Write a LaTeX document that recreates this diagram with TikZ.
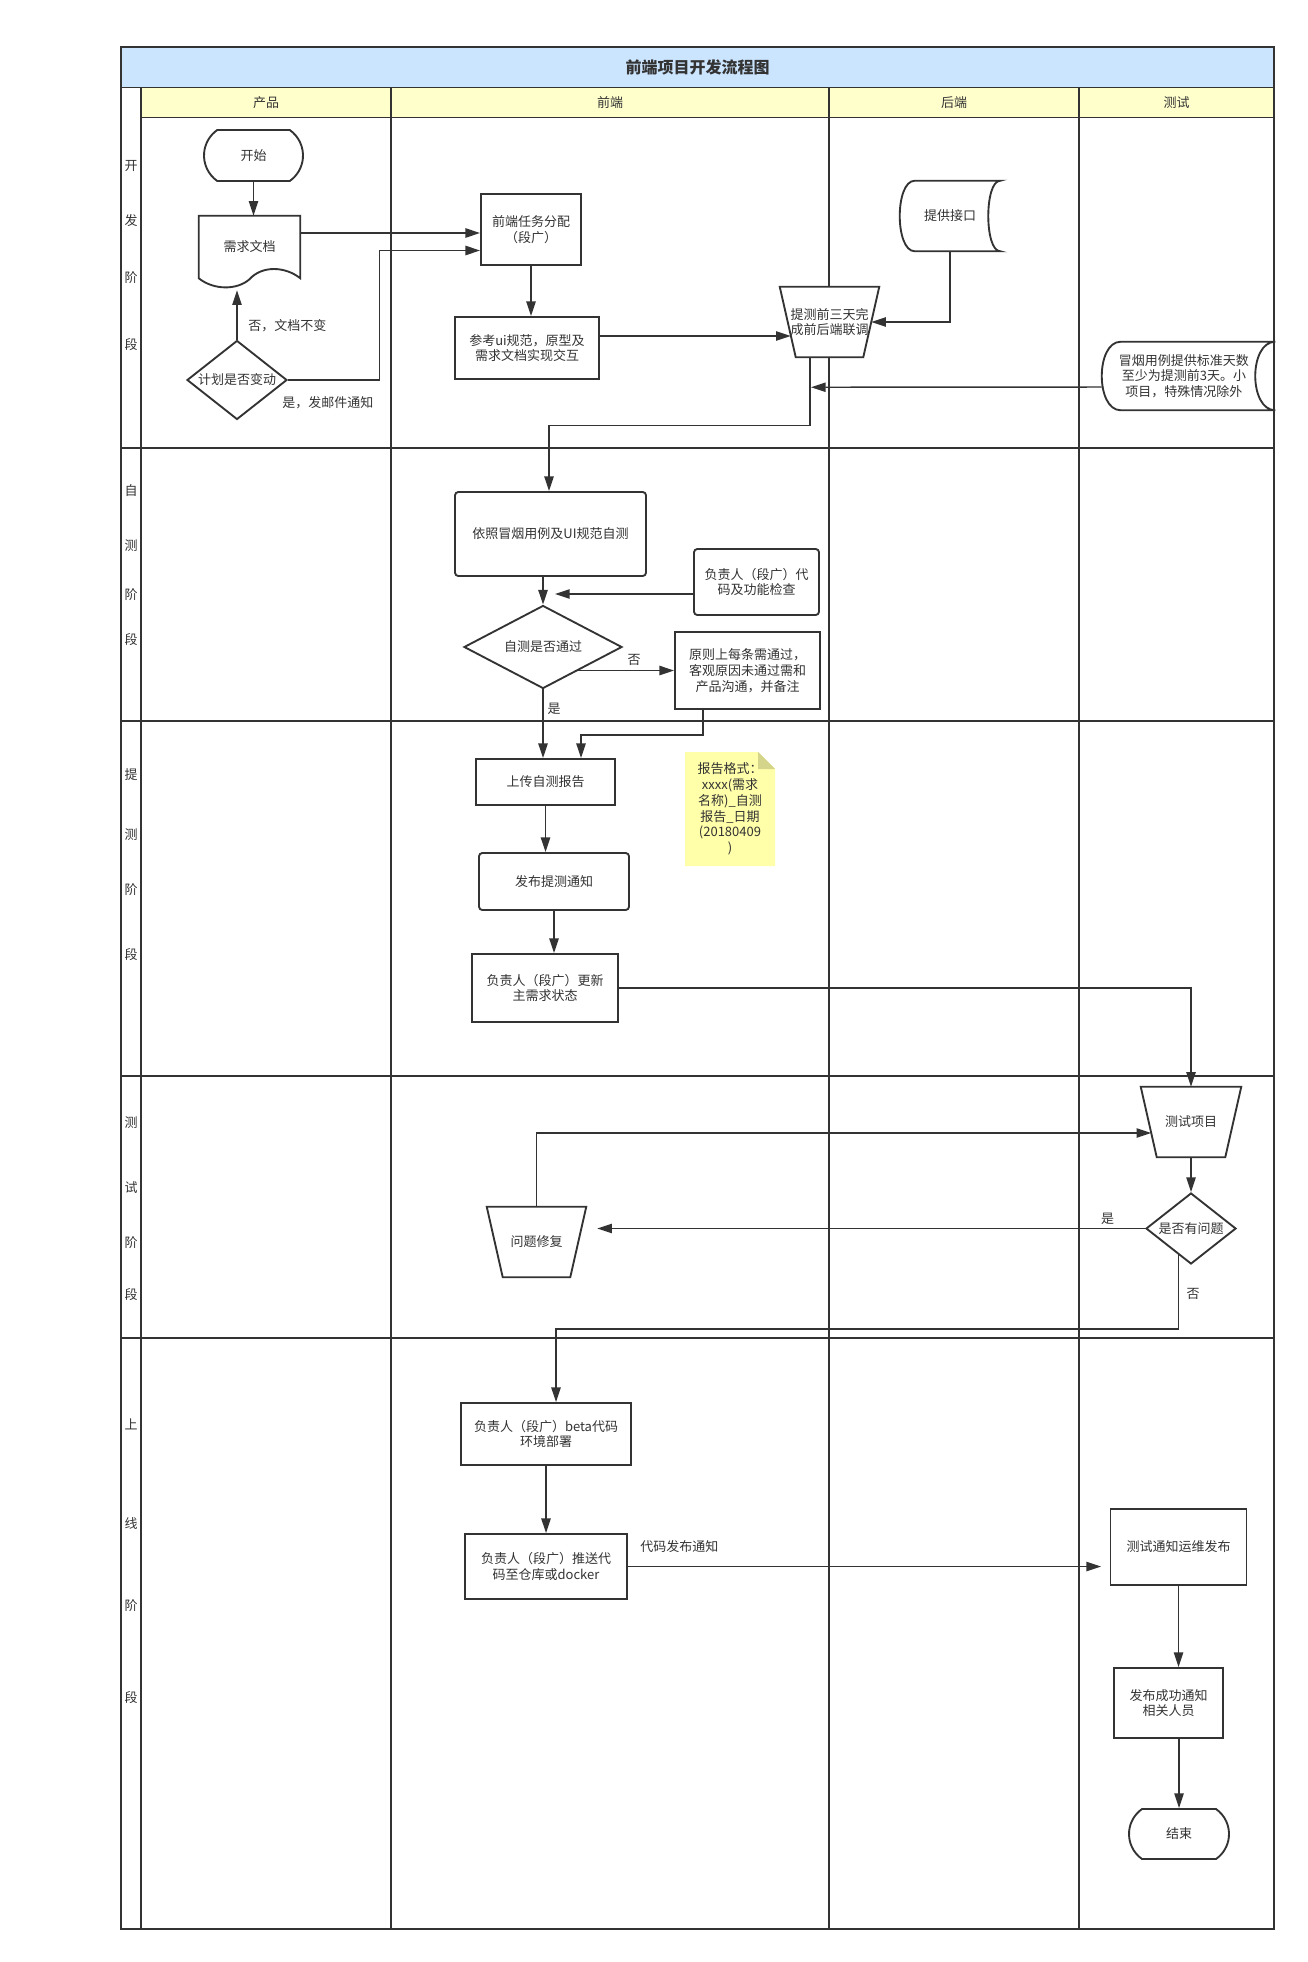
\documentclass[tikz,border=0pt]{standalone}
\usepackage{fontspec}
\setmainfont{Noto Sans CJK SC}
\usetikzlibrary{shapes.geometric,shapes.misc,arrows.meta,calc}
\definecolor{lc}{HTML}{333333}
\definecolor{tc}{HTML}{333333}
\definecolor{titlebg}{HTML}{CCE5FF}
\definecolor{headbg}{HTML}{FFFFCC}
\definecolor{notebg}{HTML}{FFFFAA}
\definecolor{notefold}{HTML}{D4D48A}
\pgfdeclarelayer{lanes}
\pgfdeclarelayer{shapes}
\pgfsetlayers{lanes,shapes,main}
\begin{document}
\begin{tikzpicture}[x=0.75pt,y=-0.75pt,
  every node/.style={text=tc, font=\fontsize{9.75}{11.8}\selectfont},
  lane/.style={draw=lc, line width=1.3pt},
  sz/.style 2 args={minimum width=#1*0.75pt, minimum height=#2*0.75pt},
  box/.style={draw=lc, line width=1.4pt, fill=white, align=center, inner sep=0pt},
  rbox/.style={box, rounded corners=2.5pt},
  ghost/.style={align=center, inner sep=0pt},
  shp/.style={draw=lc, line width=1.4pt, fill=white},
  dia/.style={draw=lc, line width=1.4pt, fill=white, diamond, inner sep=0pt},
  term/.style={draw=lc, line width=1.4pt, fill=white, rounded rectangle, rounded rectangle arc length=110, inner sep=0pt},
  arr/.style={draw=lc, line width=1.1pt, -{Triangle[length=11pt,width=7pt]}},
]
\useasboundingbox (0,0) rectangle (1308,1962);
\begin{pgfonlayer}{lanes}
  \fill[white] (0,0) rectangle (1308,1962);
  \fill[titlebg] (121,47.5) rectangle (1274,87.5);
  \fill[headbg] (141,87.5) rectangle (1274,117.5);
  \draw[lane] (141,87.5) -- (141,1929);
  \foreach \x in {391,829,1079} \draw[lane] (\x,87.5) -- (\x,1929);
  \draw[lane] (141,117.5) -- (1274,117.5);
  \foreach \y in {87.5,448,721,1076,1338} \draw[lane] (121,\y) -- (1274,\y);
  \draw[lane, line width=1.5pt] (121,47.5) rectangle (1274,1929);
\end{pgfonlayer}

% title and headers
\node[font=\bfseries\fontsize{12}{14}\selectfont] (title) at (697.5,67.5) {前端项目开发流程图};
\node (h1) at (266,102.5) {产品};
\node (h2) at (610,102.5) {前端};
\node (h3) at (954,102.5) {后端};
\node (h4) at (1176.5,102.5) {测试};

% stage labels
\foreach \t/\y [count=\i] in {开/166,发/221,阶/278,段/345,
  自/491,测/546,阶/595,段/640,
  提/775,测/835,阶/890,段/955,
  测/1123,试/1188,阶/1243,段/1295,
  上/1424,线/1524,阶/1606,段/1698}
  \node (s\i) at (131,\y) {\t};

% ---- row 1
\node[term, sz={99}{51}] (start) at (253.5,155.5) {开始};
\node[ghost, sz={101}{62}] (doc) at (249.5,247) {需求文档};
\node[box, sz={100}{71}] (fe) at (531,229.5) {前端任务分配\\（段广）};
\node[box, sz={144}{62}] (ref) at (527,348) {参考ui规范，原型及\\需求文档实现交互};
\node[ghost, sz={99}{70}] (lt) at (829.5,322) {提测前三天完\\成前后端联调};
\node[ghost, sz={100}{70}] (api) at (950,216) {提供接口};
\node[ghost, sz={173}{68}, label={[align=center, inner sep=0pt, xshift=-3.4pt]center:{冒烟用例提供标准天数\\至少为提测前3天。小\\项目，特殊情况除外}}] (smoke) at (1188.5,376) {};
\node[dia, sz={100}{79}, label={center:计划是否变动}] (chg) at (237,380) {};

% ---- row 2
\node[rbox, sz={191}{84}] (yz) at (550.5,534) {依照冒烟用例及UI规范自测};
\node[rbox, sz={125}{66}] (chk) at (756.5,582) {负责人（段广）代\\码及功能检查};
\node[dia, sz={158}{83}, label={center:自测是否通过}] (pass) at (543,647) {};
\node[box, sz={145}{77}] (yz2) at (747.5,670.5) {原则上每条需通过，\\客观原因未通过需和\\产品沟通，并备注};

% ---- row 3
\node[box, sz={139}{46}] (up) at (545.5,782) {上传自测报告};
\node[rbox, sz={150}{57}] (pub) at (554,881.5) {发布提测通知};
\node[box, sz={145.5}{68}] (upd) at (545,988) {负责人（段广）更新\\主需求状态};

% ---- row 4
\node[ghost, sz={100}{70}] (tp) at (1191,1122) {测试项目};
\node[dia, sz={90}{71}, label={center:是否有问题}] (issue) at (1191,1228.5) {};
\node[ghost, sz={99}{70}] (fix) at (536.5,1242) {问题修复};

% ---- row 5
\node[box, sz={170}{62}] (beta) at (546,1434) {负责人（段广）beta代码\\环境部署};
\node[box, sz={162}{65}] (push) at (546,1566.5) {负责人（段广）推送代\\码至仓库或docker};
\node[box, sz={136}{76}] (ops) at (1178.5,1547) {测试通知运维发布};
\node[box, sz={109}{70}] (succ) at (1168.5,1703) {发布成功通知\\相关人员};
\node[term, sz={100}{50}] (end) at (1179,1834) {结束};

% ---- shapes drawn from ghost nodes
\begin{pgfonlayer}{shapes}
  \path[shp] (doc.north west) -- (doc.north east) -- (doc.south east)
    .. controls ($(doc.south east)+(-15,-12)$) and ($(doc.south)+(12.5,-13)$) .. ($(doc.south)+(0,1)$)
    .. controls ($(doc.south)+(-12.5,12)$) and ($(doc.south west)+(15,12)$) .. (doc.south west) -- cycle;
  \foreach \t in {lt,tp,fix}
    \path[shp] (\t.north west) -- (\t.north east) -- ($(\t.south east)+(-16,0)$) -- ($(\t.south west)+(16,0)$) -- cycle;
  \path[shp] ($(api.north west)+(15,0)$) -- (api.north east)
    .. controls ($(api.north east)+(-16,0)$) and ($(api.south east)+(-16,0)$) .. (api.south east)
    -- ($(api.south west)+(15,0)$)
    .. controls ($(api.south west)+(-5,0)$) and ($(api.north west)+(-5,0)$) .. cycle;
  \path[shp] ($(smoke.north west)+(19,0)$) -- (smoke.north east)
    .. controls ($(smoke.north east)+(-26.7,0)$) and ($(smoke.south east)+(-26.7,0)$) .. (smoke.south east)
    -- ($(smoke.south west)+(19,0)$)
    .. controls ($(smoke.south west)+(-6.3,0)$) and ($(smoke.north west)+(-6.3,0)$) .. cycle;
  \fill[notebg] (685,752) -- (758,752) -- (775,769) -- (775,866) -- (685,866) -- cycle;
  \fill[notefold] (758,752) -- (775,769) -- (758,769) -- cycle;
\end{pgfonlayer}
\node[align=center, inner sep=0pt, font=\fontsize{9.75}{11.85}\selectfont] (note) at (730,809)
  {报告格式：\\xxxx(需求\\名称)\_自测\\报告\_日期\\(20180409\\)};

% ---- connectors
\draw[arr] (start.south) -- (start.south |- doc.north);
\draw[arr] ($(doc.east)+(0,-14)$) -- ($(fe.west)+(0,3.5)$);
\draw[arr] (chg.east) -- ($(chg.east)+(91.5,0)$) |- ($(fe.west)+(0,21)$);
\draw[arr] (chg.north) -- ($(doc.south)+(-12.5,12)$);
\node[anchor=west, inner sep=0pt] (lno) at (248,326) {否，文档不变};
\node[anchor=west, inner sep=0pt] (lyes) at (282,403) {是，发邮件通知};
\draw[arr] (fe.south) -- (fe.south |- ref.north);
\draw[arr] ($(ref.east)+(0,-12)$) -- ($(lt.west)+(11,14)$);
\draw[arr] (api.south) |- ($(lt.east)+(-8,0)$);
\draw[arr] ($(smoke.west)+(0,11)$) -- ($(lt.south)+(-18.5,30)$);
\draw[arr] ($(lt.south)+(-19.5,0)$) -- ($(lt.south)+(-19.5,68)$) -| ($(yz.north)+(-1.5,0)$);
\draw[arr] (pass.north |- yz.south) -- (pass.north);
\draw[arr] ($(chk.west)+(0,12)$) -- ($(pass.north |- chk.west)+(12,12)$);
\draw[arr] ($(yz2.west)+(-97,0)$) -- (yz2.west);
\node (no1) at (634,660) {否};
\draw[arr] (pass.south) -- (pass.south |- up.north);
\node (yes1) at (554,709) {是};
\draw[arr] ($(yz2.south)+(-44.5,0)$) -- ++(0,25) -| ($(up.north)+(35.5,0)$);
\draw[arr] (up.south) -- (up.south |- pub.north);
\draw[arr] (pub.south) -- (pub.south |- upd.north);
\draw[arr] (upd.east) -| (tp.north);
\draw[arr] (tp.south) -- (issue.north);
\draw[arr] (issue.west) -- ($(fix.east)+(11,-13.5)$);
\node (yes2) at (1107.5,1219) {是};
\draw[arr] (fix.north) |- ($(tp.west)+(10.5,11)$);
\draw[arr] ($(issue.south)+(-12.5,-10)$) -- ++(0,74) -| ($(beta.north)+(10,0)$);
\node (no2) at (1193,1294) {否};
\draw[arr] (beta.south) -- (beta.south |- push.north);
\draw[arr] (push.east) -- ($(ops.west)+(-8.5,19.5)$);
\node[anchor=west, inner sep=0pt] (rel) at (640,1547) {代码发布通知};
\draw[arr] (ops.south) -- (ops.south |- succ.north);
\draw[arr] (end.north |- succ.south) -- (end.north);
\end{tikzpicture}
\end{document}
